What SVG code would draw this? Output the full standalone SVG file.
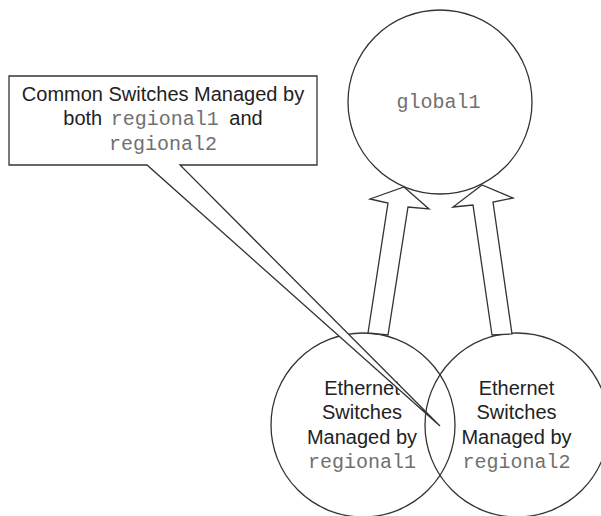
<svg xmlns="http://www.w3.org/2000/svg" width="601" height="516" viewBox="0 0 601 516">
<style>
.shape{fill:#fff;stroke:#333;stroke-width:1.3}
.ring{fill:none;stroke:#333;stroke-width:1.3}
.sans{font-family:"Liberation Sans",Arial,sans-serif;font-size:20px;fill:#222;text-anchor:middle}
.mono{font-family:"Liberation Mono","Courier New",monospace;font-size:20px;fill:#707070}
</style>
<rect width="601" height="516" fill="#fff"/>
<g id="global1">
<circle class="shape" cx="440" cy="102" r="92"/>
<text class="mono" x="438.5" y="108" text-anchor="middle">global1</text>
</g>
<g id="regional1">
<circle class="ring" cx="363" cy="425" r="92"/>
<text class="sans" x="362" y="395">Ethernet</text>
<text class="sans" x="362" y="419">Switches</text>
<text class="sans" x="362" y="444">Managed by</text>
<text class="mono" x="362" y="468" text-anchor="middle">regional1</text>
</g>
<g id="regional2">
<circle class="ring" cx="517" cy="425" r="92"/>
<text class="sans" x="516.5" y="395">Ethernet</text>
<text class="sans" x="516.5" y="419">Switches</text>
<text class="sans" x="516.5" y="444">Managed by</text>
<text class="mono" x="516.5" y="468" text-anchor="middle">regional2</text>
</g>
<g id="connectors">
<polygon class="shape" points="368,333 388,203 370,199 404,187 429,209 408,207 388,335"/>
<polygon class="shape" points="492,335 473,205 453,207 482,185 513,198 493,202 512,334"/>
</g>
<g id="callout">
<path class="shape" d="M9,76 H317 V165 H180 L440,426 L147,165 H9 Z"/>
<text class="sans" x="163" y="101">Common Switches Managed by</text>
<text class="sans" x="163" y="125">both <tspan class="mono" dx="3">regional1</tspan><tspan dx="5"> and</tspan></text>
<text class="mono" x="163" y="150" text-anchor="middle">regional2</text>
</g>
</svg>
